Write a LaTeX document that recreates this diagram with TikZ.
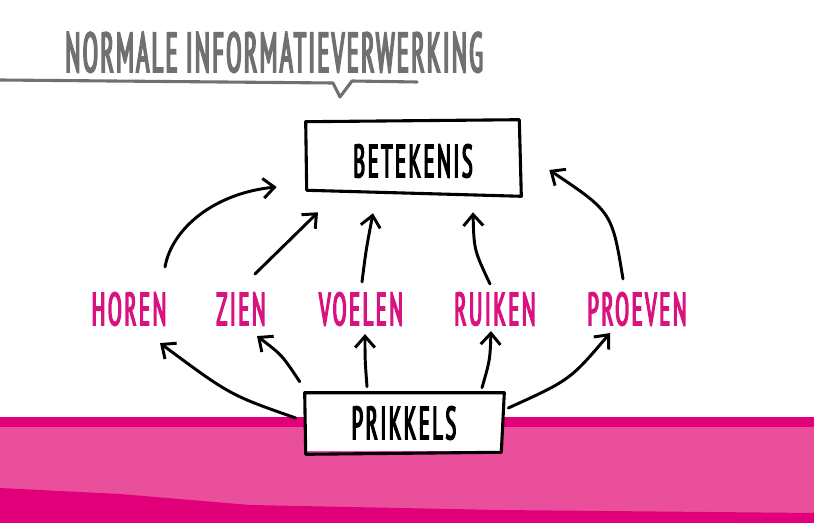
\documentclass[tikz,border=0pt]{standalone}
\usepackage{fontspec}
\usetikzlibrary{arrows.meta,positioning}
\newfontfamily\handfont[FakeStretch=0.44, LetterSpace=5.5, FakeBold=3]{PT Sans}
\newfontfamily\titlefont[FakeStretch=0.4, LetterSpace=4.1, FakeBold=3]{PT Sans}
\definecolor{titlegray}{HTML}{707070}
\definecolor{sensepink}{HTML}{D8137F}
\definecolor{banddark}{HTML}{E2007A}
\definecolor{bandlight}{HTML}{EA4F9B}
\tikzset{
  sense/.style={text=sensepink, font=\handfont\fontsize{33}{33}\selectfont, inner sep=0pt},
  box/.style={fill=white, minimum width=5.2cm, minimum height=1.6cm, font=\handfont\fontsize{33}{33}\selectfont, inner sep=0pt},
  boxline/.style={line width=2.2pt, line join=round, line cap=round},
  arrow/.style={line width=2.1pt, line cap=round, -{Straight Barb[length=8pt,width=14pt,line width=2.1pt]}}
}
\begin{document}
\begin{tikzpicture}[x=0.025cm, y=-0.025cm]
  \useasboundingbox (0,0) rectangle (814,523);
  % pink band
  \fill[bandlight] (0,417) rectangle (814,523);
  \fill[banddark] (0,417) rectangle (814,427);
  \fill[banddark] (0,488) -- (120,494) -- (250,505) -- (500,510) -- (814,513) -- (814,523) -- (0,523) -- cycle;
  % title
  \node[text=titlegray, font=\titlefont\fontsize{40}{40}\selectfont, anchor=south west, inner sep=0pt] (title) at (65,73) {NORMALE INFORMATIEVERWERKING};
  \draw[titlegray, line width=2.2pt, line cap=round, line join=round]
    (0,80) -- (333,83) -- (340,97) -- (352,81) -- (417,82);
  % boxes
  \node[box] (betekenis) at (413,161) {BETEKENIS};
  \node[box, minimum width=4.9cm, minimum height=1.4cm] (prikkels) at (404,423) {PRIKKELS};
  \draw[boxline] ([shift={(-3,-7)}]betekenis.north west) -- ([shift={(2,-9)}]betekenis.north east)
    -- ([shift={(4,3)}]betekenis.south east) -- ([shift={(-2,-3)}]betekenis.south west) -- cycle;
  \draw[boxline] ([shift={(-1,-2)}]prikkels.north west) -- ([shift={(2,-2)}]prikkels.north east)
    -- ([shift={(-1,1)}]prikkels.south east) -- ([shift={(0,3)}]prikkels.south west) -- cycle;
  % senses
  \node[sense] (horen) at (129,309) {HOREN};
  \node[sense] (zien) at (241,309) {ZIEN};
  \node[sense] (voelen) at (361,309) {VOELEN};
  \node[sense] (ruiken) at (495,309) {RUIKEN};
  \node[sense] (proeven) at (637,309) {PROEVEN};
  % naar betekenis
  \draw[arrow] ([shift={(36,-25)}]horen.north) .. controls (172,228) and (215,193) .. ([shift={(-32,26)}]betekenis.west);
  \draw[arrow] ([shift={(14,-18)}]zien.north) -- ([shift={(-95,19)}]betekenis.south);
  \draw[arrow] ([shift={(1,-10)}]voelen.north) .. controls (366,250) .. ([shift={(-40,20)}]betekenis.south);
  \draw[arrow] ([shift={(-5,-8)}]ruiken.north) .. controls (474,250) .. ([shift={(60,19)}]betekenis.south);
  \draw[arrow] ([shift={(-14,-13)}]proeven.north) .. controls (612,212) .. ([shift={(32,9)}]betekenis.east);
  % vanuit prikkels
  \draw[arrow] ([shift={(-10,-5)}]prikkels.west) .. controls (230,395) .. ([shift={(31,17)}]horen.south);
  \draw[arrow] ([shift={(-6,-13)}]prikkels.north west) .. controls (282,355) .. ([shift={(16,10)}]zien.south);
  \draw[arrow] ([shift={(-37,-8)}]prikkels.north) .. controls (365,360) .. ([shift={(4,8)}]voelen.south);
  \draw[arrow] ([shift={(78,-7)}]prikkels.north) .. controls (490,360) .. ([shift={(-4,5)}]ruiken.south);
  \draw[arrow] ([shift={(6,-15)}]prikkels.east) .. controls (570,380) .. ([shift={(-27,7)}]proeven.south);
\end{tikzpicture}
\end{document}
